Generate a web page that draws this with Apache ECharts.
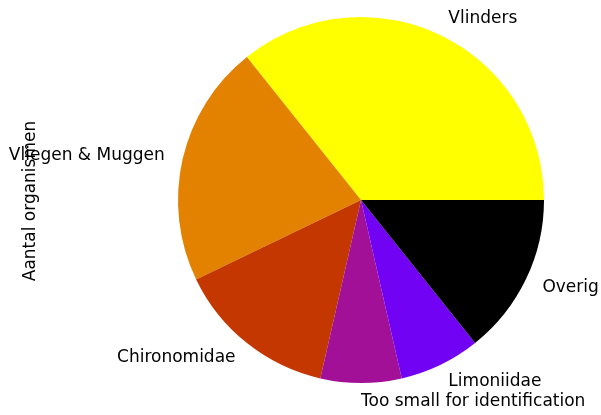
<!DOCTYPE html>
<html>
<head>
<meta charset="utf-8">
<script src="https://cdn.jsdelivr.net/npm/echarts@6/dist/echarts.min.js"></script>
<style>
html,body{margin:0;padding:0;background:#fff;}
#c{width:601px;height:415px;}
</style>
</head>
<body>
<div id="c"></div>
<script>
const categories = ["Vlinders", "Vliegen & Muggen", "Chironomidae", "Too small for identification", "Limoniidae", "Overig"];
const counts = [5, 3, 2, 1, 1, 2];
const colors = ["#ffff00", "#e38200", "#c53700", "#a11096", "#7202f4", "#000000"];
const yLabel = "Aantal organismen";

const R = 183;
const FS = 17;
const chart = echarts.init(document.getElementById('c'), null, {renderer: 'canvas'});
chart.setOption({
  animation: false,
  textStyle: {fontFamily: 'DejaVu Sans'},
  graphic: [{
    type: 'text',
    x: 31, y: 201,
    rotation: Math.PI / 2,
    style: {
      text: yLabel,
      fontFamily: 'DejaVu Sans',
      fontSize: FS,
      fill: '#000',
      align: 'center',
      verticalAlign: 'middle'
    },
    z: 1
  }],
  series: [{
    type: 'pie',
    center: [361, 200],
    radius: [0, R],
    startAngle: 0.01,
    clockwise: false,
    avoidLabelOverlap: false,
    minShowLabelAngle: 0,
    z: 2,
    label: {
      show: true,
      position: 'outside',
      alignTo: 'none',
      distanceToLabelLine: 0,
      color: '#000',
      fontFamily: 'DejaVu Sans',
      fontSize: FS
    },
    labelLine: {show: false, length: R * 0.1, length2: 0},
    emphasis: {disabled: true},
    itemStyle: {borderWidth: 0},
    data: categories.map((n, i) => ({
      name: n,
      value: counts[i],
      itemStyle: {color: colors[i]}
    }))
  }]
});
</script>
</body>
</html>
